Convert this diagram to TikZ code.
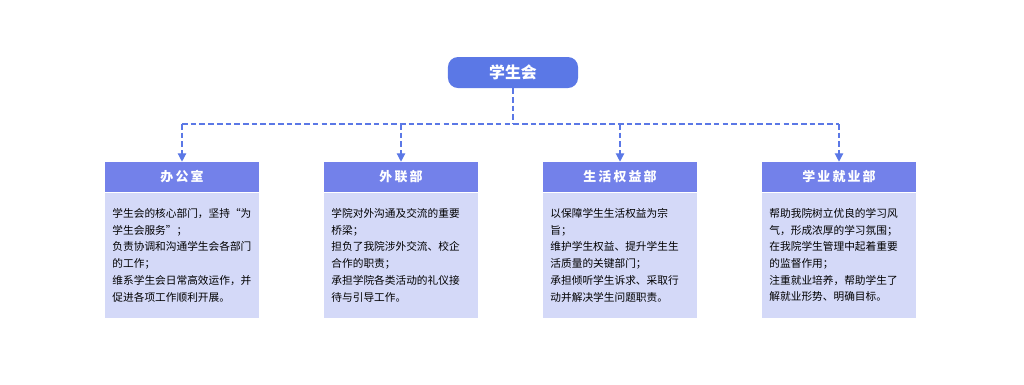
\documentclass[tikz,border=0pt]{standalone}
\usepackage{fontspec}
\setmainfont{Noto Sans CJK SC}
\usetikzlibrary{positioning,arrows.meta}
\definecolor{scAzul}{HTML}{5B78E6}
\definecolor{scLila}{HTML}{7381EA}
\definecolor{scFondo}{HTML}{D4D9F8}

\begin{document}
\begin{tikzpicture}[x=0.025cm, y=-0.025cm,
      root/.style={rounded corners=0.25cm, fill=scAzul, text=white,
                   minimum width=3.25cm, minimum height=0.775cm,
                   font=\fontsize{11.3}{13}\selectfont\bfseries},
      head/.style={fill=scLila, text=white, minimum width=3.825cm,
                   minimum height=0.75cm, inner sep=0pt,
                   font=\fontsize{9.2}{11}\selectfont\bfseries},
      body/.style={fill=scFondo, minimum width=3.825cm, minimum height=3.125cm,
                   text width=3.475cm, inner xsep=0.175cm, inner ysep=0pt,
                   align=left, font=\fontsize{7.6}{11.9}\selectfont},
      conn/.style={scAzul, line width=0.9pt, dash pattern=on 4pt off 2.2pt}]
    \useasboundingbox (0,0) rectangle (1024,384);
    % Raiz
    \node[root] (xsh) at (513,72.5) {学生会};
    \coordinate (bus) at (513,124);
    % Departamentos
    \node[head] (h1) at (182,177) {办\,公\,室};
    \node[head] (h2) at (401,177) {外\,联\,部};
    \node[head] (h3) at (620,177) {生\,活\,权\,益\,部};
    \node[head] (h4) at (839,177) {学\,业\,就\,业\,部};
    \node[body, below=0pt of h1] (b1) {学生会的核心部门，坚持“为\\学生会服务”；\\负责协调和沟通学生会各部门\\的工作；\\维系学生会日常高效运作，并\\促进各项工作顺利开展。};
    \node[body, below=0pt of h2] (b2) {学院对外沟通及交流的重要\\桥梁；\\担负了我院涉外交流、校企\\合作的职责；\\承担学院各类活动的礼仪接\\待与引导工作。};
    \node[body, below=0pt of h3] (b3) {以保障学生生活权益为宗\\旨；\\维护学生权益、提升学生生\\活质量的关键部门；\\承担倾听学生诉求、采取行\\动并解决学生问题职责。};
    \node[body, below=0pt of h4] (b4) {帮助我院树立优良的学习风\\气，形成浓厚的学习氛围；\\在我院学生管理中起着重要\\的监督作用；\\注重就业培养，帮助学生了\\解就业形势、明确目标。};
    % Conexiones
    \draw[conn] (xsh) -- (bus);
    \draw[conn] (h1 |- bus) -- (h4 |- bus);
    \foreach \i in {1,...,4}
      \draw[conn, -{Triangle[length=6pt, width=6pt]}] (h\i |- bus) -- (h\i);
\end{tikzpicture}
\end{document}
